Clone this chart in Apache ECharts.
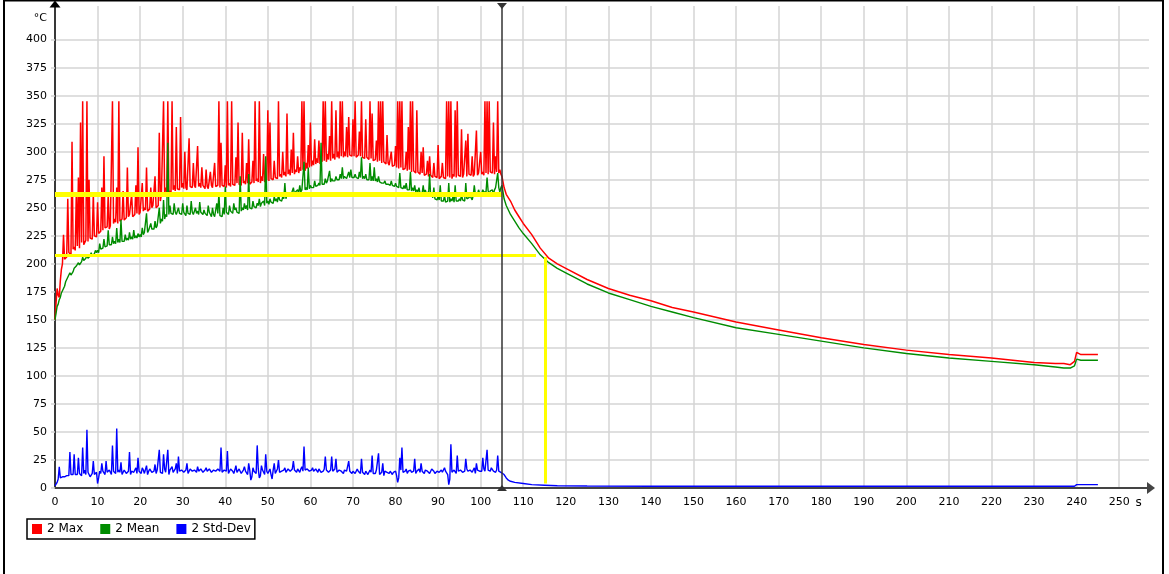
<!DOCTYPE html>
<html><head><meta charset="utf-8">
<script src="https://cdn.jsdelivr.net/npm/echarts@6/dist/echarts.min.js"></script>
<style>html,body{margin:0;padding:0;background:#fff}#c{width:1169px;height:574px}</style>
</head><body><div id="c"></div>
<script>
// ---------- data ----------
const seriesNames = ['2 Max', '2 Mean', '2 Std-Dev'];
const xTickLabels = [0,10,20,30,40,50,60,70,80,90,100,110,120,130,140,150,160,170,180,190,200,210,220,230,240,250];
const yTickLabels = [0,25,50,75,100,125,150,175,200,225,250,275,300,325,350,375,400];
const xUnit = 's';
const yUnit = '°C';

// heating phase: readings at 0, 0.5, 1, ... 105 s  ("on") and at 0.25, 0.75, ... 104.75 s ("mid")
const phase1Start = 0;
const phase1Step = 0.5;
const maxPhase1 = [
 150,178,170,195,226,205,258,210,309,215,
 262,277,326,345,218,345,275,222,262,226,
 255,228,268,296,232,262,234,345,240,268,
 345,238,265,240,286,244,262,242,270,304,
 246,272,250,286,248,268,252,278,250,317,
 262,345,268,345,264,345,270,322,266,331,
 272,300,266,312,270,290,268,305,272,286,
 270,284,267,282,268,290,270,345,308,270,
 288,345,272,345,270,295,326,272,317,274,
 290,311,272,292,345,276,345,278,298,274,
 337,326,276,292,278,345,280,300,282,334,
 284,302,317,284,296,286,345,345,290,306,
 326,292,311,294,310,296,345,345,298,314,
 345,298,337,300,345,345,300,322,331,298,
 329,345,296,318,345,294,329,296,345,334,
 292,310,345,345,345,290,315,288,300,286,
 305,345,345,345,284,300,322,345,345,282,
 337,282,300,304,280,292,296,278,290,277,
 306,276,290,278,345,345,345,280,337,345,
 278,320,280,310,316,279,296,280,319,281,
 300,282,345,345,345,282,326,296,345,284,278
];
const maxPhase1Mid = [
 165,172,185,200,204,206,210,208,213,212,
 216,214,219,217,221,220,223,222,225,224,
 227,229,230,232,233,231,235,236,237,236,
 238,240,239,241,242,243,242,244,245,244,
 246,247,248,247,249,250,251,250,252,256,
 262,264,263,265,264,266,265,267,266,268,
 267,268,266,269,268,270,267,269,268,270,
 267,269,268,270,267,269,270,268,270,269,
 268,270,269,271,270,272,271,270,272,271,
 272,271,273,272,274,273,272,274,273,275,
 274,276,275,277,276,278,277,279,278,280,
 279,281,280,282,281,283,284,283,285,286,
 287,288,289,290,289,291,292,291,293,292,
 294,293,295,294,296,295,296,295,297,296,
 296,295,297,296,295,294,295,293,294,292,
 293,291,292,290,291,289,290,288,287,288,
 286,285,286,284,285,283,284,282,283,281,
 282,280,281,279,280,278,279,277,278,277,
 276,278,277,276,278,277,276,278,277,279,
 278,277,279,278,280,279,278,280,279,281,
 280,279,281,280,282,281,280,282,281,280
];
const meanPhase1 = [
 150,162,168,174,178,184,188,192,190,196,
 198,201,200,206,203,208,206,210,207,212,
 212,218,214,222,216,230,218,224,220,232,
 222,239,221,226,223,228,224,230,225,227,
 226,232,228,245,230,236,232,238,234,250,
 240,257,244,308,252,246,254,244,250,246,
 254,245,252,246,256,244,250,247,255,246,
 248,244,252,246,250,242,254,263,244,250,
 269,246,252,248,254,250,246,278,250,254,
 252,280,250,256,252,254,258,254,256,296,
 256,258,254,260,258,262,258,260,272,262,
 264,262,268,264,266,270,266,291,268,286,
 270,268,274,270,272,308,272,276,274,283,
 276,274,278,276,280,286,278,276,282,284,
 278,280,276,282,295,278,280,276,290,278,
 286,276,278,274,272,274,270,272,274,270,
 272,270,281,268,270,272,266,282,268,270,
 266,268,264,270,266,264,280,262,268,258,
 260,270,257,261,256,272,258,260,270,256,
 258,262,256,272,258,261,257,270,262,266,
 262,266,264,277,263,265,262,268,281,264,270
];
const meanPhase1Mid = [
 156,164,170,175,180,185,189,190,193,195,
 198,199,202,203,205,205,207,207,209,210,
 210,213,214,215,216,217,217,218,218,219,
 219,220,220,221,221,222,222,223,223,224,
 224,226,227,228,229,231,231,232,234,236,
 238,240,242,244,245,244,246,243,245,244,
 246,243,245,244,246,243,245,244,246,244,
 245,243,246,242,244,241,245,243,242,244,
 246,244,247,245,248,246,245,247,248,249,
 248,250,249,251,250,252,251,253,252,254,
 253,255,254,256,255,257,256,258,258,260,
 260,261,262,263,263,264,265,266,266,267,
 268,268,269,270,270,271,271,272,273,273,
 274,274,275,275,276,276,277,277,277,277,
 277,277,276,277,276,276,275,275,274,274,
 274,273,273,272,272,271,271,270,270,269,
 269,268,268,267,267,266,266,265,265,264,
 264,263,263,262,262,261,260,259,258,257,
 257,256,256,255,256,255,256,255,256,256,
 256,257,256,258,259,260,261,262,262,263,
 263,264,264,265,265,266,266,267,268,268
];
const stdPhase1 = [
 2,5,19,9,11,10,12,32,11,30,
 13,27,12,36,16,52,14,11,24,13,
 4,15,22,14,24,13,15,38,14,53,
 16,23,14,17,12,32,15,14,18,27,
 14,18,13,20,15,17,14,21,16,34,
 15,30,14,34,16,19,13,22,28,15,
 17,14,22,15,18,14,16,19,14,17,
 15,18,14,16,15,17,14,18,36,15,
 16,33,14,18,13,20,15,17,12,19,
 14,22,7,18,15,38,9,20,14,30,
 13,17,8,22,15,25,14,16,18,15,
 16,14,24,15,17,14,19,37,15,16,
 14,18,15,16,17,14,15,28,16,15,
 28,14,26,15,17,14,16,15,24,14,
 15,13,17,14,26,13,15,12,16,29,
 14,16,31,13,22,15,14,13,16,14,
 15,5,27,36,14,17,15,16,13,26,
 15,17,22,14,16,15,13,17,15,14,
 16,15,14,18,15,3,39,15,17,29,
 15,17,14,26,15,16,14,18,22,15,
 16,27,15,34,16,18,15,14,29,16,15
];
const stdPhase1Mid = [
 3,8,9,10,10,11,11,12,12,12,
 12,13,11,13,12,14,10,13,12,14,
 9,13,15,12,14,16,12,15,13,14,
 14,12,16,13,15,12,14,16,13,15,
 13,16,14,12,17,14,15,13,16,14,
 13,17,15,12,16,14,17,13,15,16,
 14,16,13,17,15,16,14,15,17,14,
 16,15,17,14,16,15,17,15,14,16,
 15,13,17,15,16,14,17,13,16,15,
 12,16,10,15,13,17,11,16,12,15,
 14,12,16,13,17,14,15,16,14,17,
 15,17,16,14,16,17,15,16,17,15,
 16,15,17,14,16,15,17,16,14,16,
 15,17,14,16,15,13,16,14,15,13,
 14,12,15,13,14,12,15,11,14,13,
 13,15,12,14,11,14,13,15,12,14,
 11,9,16,14,15,13,16,14,15,13,
 16,14,15,13,16,15,14,16,13,15,
 14,16,13,15,12,8,14,16,13,15,
 16,14,15,17,14,16,15,13,16,15,
 15,17,14,16,15,17,14,16,15,14
];

// cooling phase
const coolTimes = [105.5,106,107,108,109,110,112,114,116,118,120,125,130,135,140,145,150,160,170,180,190,200,210,220,230,235,237,238.5,239.5,240,241,243,245];
const maxCool  = [268,262,256,248,242,236,226,214,205,200,196,186,178,172,167,161,157,148,141,134,128,123,119,116,112,111,111,110,113,121,119,119,119];
const meanCool = [258,252,244,238,232,227,218,208,201,196,192,182,174,168,162,157,152,143,137,131,125,120,116,113,110,108,107,107,109,115,114,114,114];
const stdCoolTimes = [105.5,106,106.5,107,108,110,112,115,118,125,140,200,239.5,240,245];
const stdCool = [12,9,7,6,5,4,3,2.5,2,1.8,1.5,1.5,1.5,3,3];

// annotation values
const stopTime = 105;
const refLevelHigh = 262.5;
const refLevelLow = 208;
const refLowEndTime = 113;
const refTimeLow = 115.2;

// ---------- build ----------
function phase1Pairs(onVals, midVals) {
  const out = [];
  onVals.forEach((v, i) => {
    const t = phase1Start + i * phase1Step;
    out.push([t, v]);
    if (i < midVals.length) out.push([t + phase1Step / 2, midVals[i]]);
  });
  return out;
}
function pairs(ts, vs) { return ts.map((t, i) => [t, vs[i]]); }

const maxData = phase1Pairs(maxPhase1, maxPhase1Mid).concat(pairs(coolTimes, maxCool));
const meanData = phase1Pairs(meanPhase1, meanPhase1Mid).concat(pairs(coolTimes, meanCool));
const stdData = phase1Pairs(stdPhase1, stdPhase1Mid).concat(pairs(stdCoolTimes, stdCool));

const FONT = 'DejaVu Sans';
const GRID = '#d4d4d4';
const X_MAX = 257, Y_MAX = 430;

const xSplitColors = xTickLabels.map(() => GRID).concat(['rgba(0,0,0,0)']);
const ySplitColors = yTickLabels.map(() => GRID).concat(['rgba(0,0,0,0)', 'rgba(0,0,0,0)']);

const chart = echarts.init(document.getElementById('c'), null, {renderer: 'canvas'});
chart.setOption({
  animation: false,
  backgroundColor: '#fff',
  textStyle: {fontFamily: FONT},
  grid: {left: 55, right: 20, top: 6, bottom: 86, containLabel: false},
  legend: {
    data: seriesNames,
    left: 27, top: 519,
    orient: 'horizontal',
    icon: 'rect',
    itemWidth: 10, itemHeight: 10,
    itemGap: 17,
    padding: [4, 4, 4, 5],
    borderColor: '#000', borderWidth: 1.5,
    backgroundColor: '#fff',
    textStyle: {fontFamily: FONT, fontSize: 12, color: '#000'},
    selectedMode: false
  },
  xAxis: {
    type: 'value', min: 0, max: X_MAX, interval: 10,
    name: xUnit, nameLocation: 'end', nameGap: -11,
    nameTextStyle: {fontFamily: FONT, fontSize: 12, color: '#000', verticalAlign: 'top', align: 'center', padding: [9, 0, 0, 0]},
    axisLine: {show: true, onZero: false, lineStyle: {color: '#444', width: 2}, symbol: ['none', 'triangle'], symbolSize: [12, 8], symbolOffset: [0, 2]},
    axisTick: {show: false},
    axisLabel: {customValues: xTickLabels, color: '#000', fontSize: 11, fontFamily: FONT, margin: 9},
    splitLine: {show: true, lineStyle: {color: xSplitColors, width: 1.5}}
  },
  yAxis: {
    type: 'value', min: 0, max: Y_MAX, interval: 25,
    name: yUnit, nameLocation: 'end', nameGap: -12,
    nameTextStyle: {fontFamily: FONT, fontSize: 11, color: '#000', align: 'right', verticalAlign: 'middle', padding: [0, 8, 0, 0]},
    axisLine: {show: true, onZero: false, lineStyle: {color: '#000', width: 1.5}, symbol: ['none', 'triangle'], symbolSize: [11, 7], symbolOffset: [0, 2]},
    axisTick: {show: true, customValues: yTickLabels, length: 4, lineStyle: {color: GRID, width: 1.5}},
    axisLabel: {customValues: yTickLabels, color: '#000', fontSize: 11, fontFamily: FONT, margin: 8},
    splitLine: {show: true, lineStyle: {color: ySplitColors, width: 1.5}}
  },
  graphic: [{
    type: 'rect', silent: true, z: 100,
    shape: {x: 4, y: 0.5, width: 1159, height: 600},
    style: {fill: 'none', stroke: '#000', lineWidth: 2}
  }],
  series: [
    {name: seriesNames[0], type: 'line', data: maxData, showSymbol: false, symbol: 'none',
     lineStyle: {color: '#ff0000', width: 1.5}, itemStyle: {color: '#ff0000'}, z: 2},
    {name: seriesNames[1], type: 'line', data: meanData, showSymbol: false, symbol: 'none',
     lineStyle: {color: '#008c00', width: 1.4}, itemStyle: {color: '#008c00'}, z: 3},
    {name: seriesNames[2], type: 'line', data: stdData, showSymbol: false, symbol: 'none',
     lineStyle: {color: '#0000ff', width: 1.4}, itemStyle: {color: '#0000ff'}, z: 3},
    {type: 'line', data: [], z: 5, silent: true,
     markLine: {silent: true, symbol: 'none', animation: false, label: {show: false},
       data: [
         [{coord: [0, refLevelHigh], lineStyle: {color: '#ffff00', width: 5, type: 'solid'}}, {coord: [stopTime, refLevelHigh]}],
         [{coord: [0, refLevelLow], lineStyle: {color: '#ffff00', width: 3, type: 'solid'}}, {coord: [refLowEndTime, refLevelLow]}],
         [{coord: [refTimeLow, refLevelLow - 2], lineStyle: {color: '#ffff00', width: 3, type: 'solid'}}, {coord: [refTimeLow, 4]}]
       ]}},
    {type: 'line', data: [], z: 6, silent: true,
     markLine: {silent: true, animation: false, label: {show: false},
       symbol: ['path://M0,0 L10,0 L5,10 Z', 'path://M0,0 L10,0 L5,10 Z'], symbolSize: [10, 6],
       lineStyle: {color: '#333', width: 1.5, type: 'solid'},
       data: [[{coord: [stopTime, 0]}, {coord: [stopTime, Y_MAX]}]]}}
  ]
});
</script></body></html>
